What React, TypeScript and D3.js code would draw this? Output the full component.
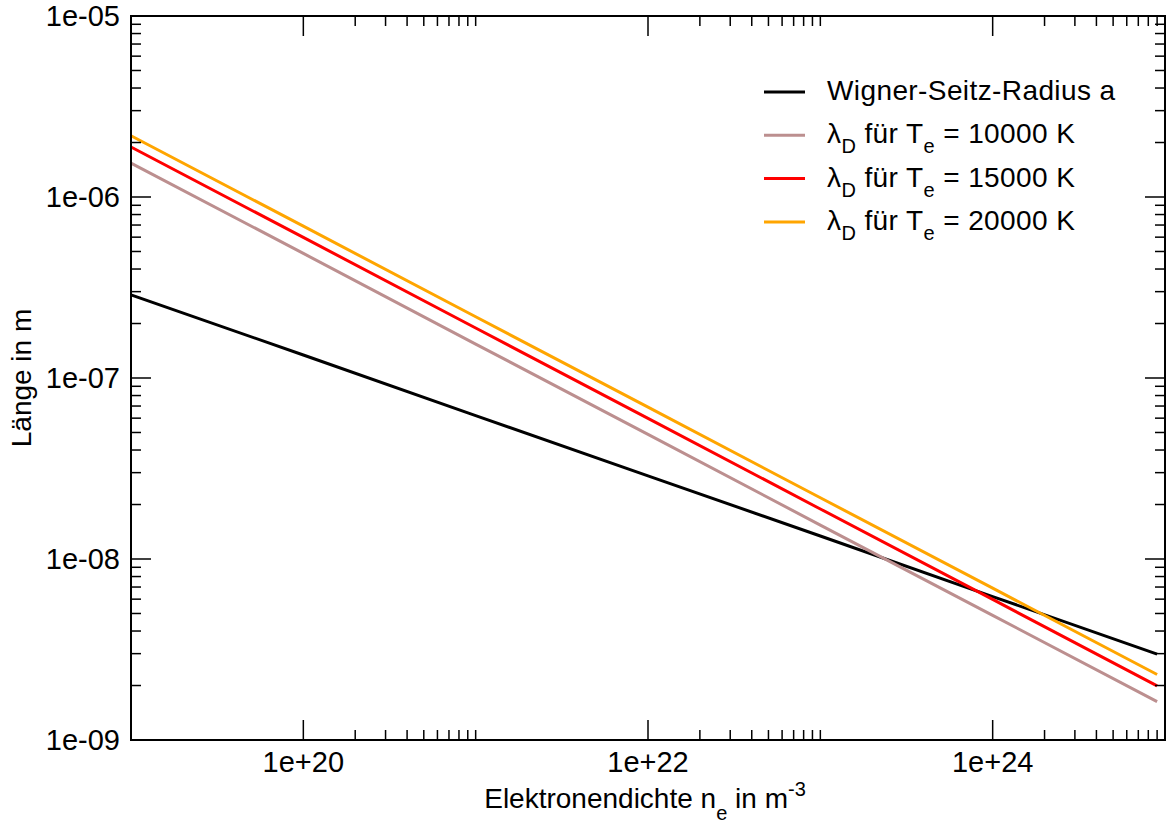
import * as d3 from "d3";

// electron density n_e in m^-3
const densities = [1e19, 1e20, 1e21, 1e22, 1e23, 1e24, 9e24];

// length in m
const wignerSeitz = [2.88e-7, 1.34e-7, 6.2e-8, 2.88e-8, 1.34e-8, 6.2e-9, 2.98e-9];
const debye10000 = [1.54e-6, 4.88e-7, 1.54e-7, 4.88e-8, 1.54e-8, 4.88e-9, 1.63e-9];
const debye15000 = [1.89e-6, 5.98e-7, 1.89e-7, 5.98e-8, 1.89e-8, 5.98e-9, 1.99e-9];
const debye20000 = [2.18e-6, 6.9e-7, 2.18e-7, 6.9e-8, 2.18e-8, 6.9e-9, 2.3e-9];

const xMajorTicks = [1e20, 1e22, 1e24];
const xTickLabels = ["1e+20", "1e+22", "1e+24"];
const yMajorTicks = [1e-9, 1e-8, 1e-7, 1e-6, 1e-5];
const yTickLabels = ["1e-09", "1e-08", "1e-07", "1e-06", "1e-05"];

const series = [
  { name: "Wigner-Seitz-Radius a", values: wignerSeitz, color: "#000000", temp: "" },
  { name: "10000 K", values: debye10000, color: "#bc8f8f", temp: "10000" },
  { name: "15000 K", values: debye15000, color: "#ff0000", temp: "15000" },
  { name: "20000 K", values: debye20000, color: "#ffa500", temp: "20000" },
];

const W = 1167, H = 826;
const left = 131, right = 1165, top = 16, bottom = 740;
const FONT = "'Liberation Sans', Arial, sans-serif";

export default function App() {
  const x = d3.scaleLog().domain([1e19, 1e25]).range([left, right]);
  const y = d3.scaleLog().domain([1e-9, 1e-5]).range([bottom, top]);

  // grace-style minor ticks: k * major for k = 2..10 (x), per decade on y
  const xMinor: number[] = [];
  [1e18, ...xMajorTicks].forEach(m => {
    for (let k = 2; k <= 10; k++) {
      const v = m * k;
      if (v > 1e19 && v < 1e25) xMinor.push(v);
    }
  });
  const yMinor: number[] = [];
  yMajorTicks.slice(0, -1).forEach(m => {
    for (let k = 2; k <= 9; k++) yMinor.push(m * k);
  });

  const line = d3.line<number>()
    .x((d, i) => x(densities[i]))
    .y(d => y(d));

  const majorLen = 20, minorLen = 10;

  return (
    <svg width={W} height={H} style={{ position: "absolute", left: 0, top: 0, background: "#fff" }}
      fontFamily={FONT}>
      {/* lines */}
      {series.map(s => (
        <path key={s.name} d={line(s.values) ?? ""} fill="none" stroke={s.color} strokeWidth={3} />
      ))}

      {/* frame */}
      <rect x={left} y={top} width={right - left} height={bottom - top} fill="none" stroke="#000" strokeWidth={2} />

      {/* ticks on all four sides */}
      <g stroke="#000" strokeWidth={1.5}>
        {xMajorTicks.map(t => (
          <g key={"xm" + t}>
            <line x1={x(t)} x2={x(t)} y1={bottom} y2={bottom - majorLen} />
            <line x1={x(t)} x2={x(t)} y1={top} y2={top + majorLen} />
          </g>
        ))}
        {xMinor.map(t => (
          <g key={"xn" + t}>
            <line x1={x(t)} x2={x(t)} y1={bottom} y2={bottom - minorLen} />
            <line x1={x(t)} x2={x(t)} y1={top} y2={top + minorLen} />
          </g>
        ))}
        {yMajorTicks.map(t => (
          <g key={"ym" + t}>
            <line x1={left} x2={left + majorLen} y1={y(t)} y2={y(t)} />
            <line x1={right} x2={right - majorLen} y1={y(t)} y2={y(t)} />
          </g>
        ))}
        {yMinor.map(t => (
          <g key={"yn" + t}>
            <line x1={left} x2={left + minorLen} y1={y(t)} y2={y(t)} />
            <line x1={right} x2={right - minorLen} y1={y(t)} y2={y(t)} />
          </g>
        ))}
      </g>

      {/* tick labels */}
      <g fontSize={29} fill="#000">
        {xMajorTicks.map((t, i) => (
          <text key={"xl" + t} x={x(t)} y={772} textAnchor="middle">{xTickLabels[i]}</text>
        ))}
        {yMajorTicks.map((t, i) => (
          <text key={"yl" + t} x={120} y={y(t) + 10} textAnchor="end">{yTickLabels[i]}</text>
        ))}
      </g>

      {/* axis titles */}
      <text x={645} y={808} fontSize={28} textAnchor="middle">
        Elektronendichte n<tspan fontSize={20} dy={12}>e</tspan>
        <tspan dy={-12}> in m</tspan><tspan fontSize={20} dy={-12}>-3</tspan>
      </text>
      <text transform={`translate(31,${378}) rotate(-90)`} fontSize={28} textAnchor="middle">Länge in m</text>

      {/* legend */}
      <g fontSize={28} letterSpacing={0.4}>
        {series.map((s, i) => {
          const ly = 92 + i * 43.3;
          return (
            <g key={"lg" + s.name}>
              <line x1={764} x2={805} y1={ly} y2={ly} stroke={s.color} strokeWidth={3} />
              {s.temp === "" ? (
                <text x={827} y={ly + 8}>{s.name}</text>
              ) : (
                <text x={827} y={ly + 8}>
                  λ<tspan fontSize={20} dy={10}>D</tspan>
                  <tspan dy={-10}> für T</tspan><tspan fontSize={20} dy={10}>e</tspan>
                  <tspan dy={-10}> = {s.temp} K</tspan>
                </text>
              )}
            </g>
          );
        })}
      </g>
    </svg>
  );
}
